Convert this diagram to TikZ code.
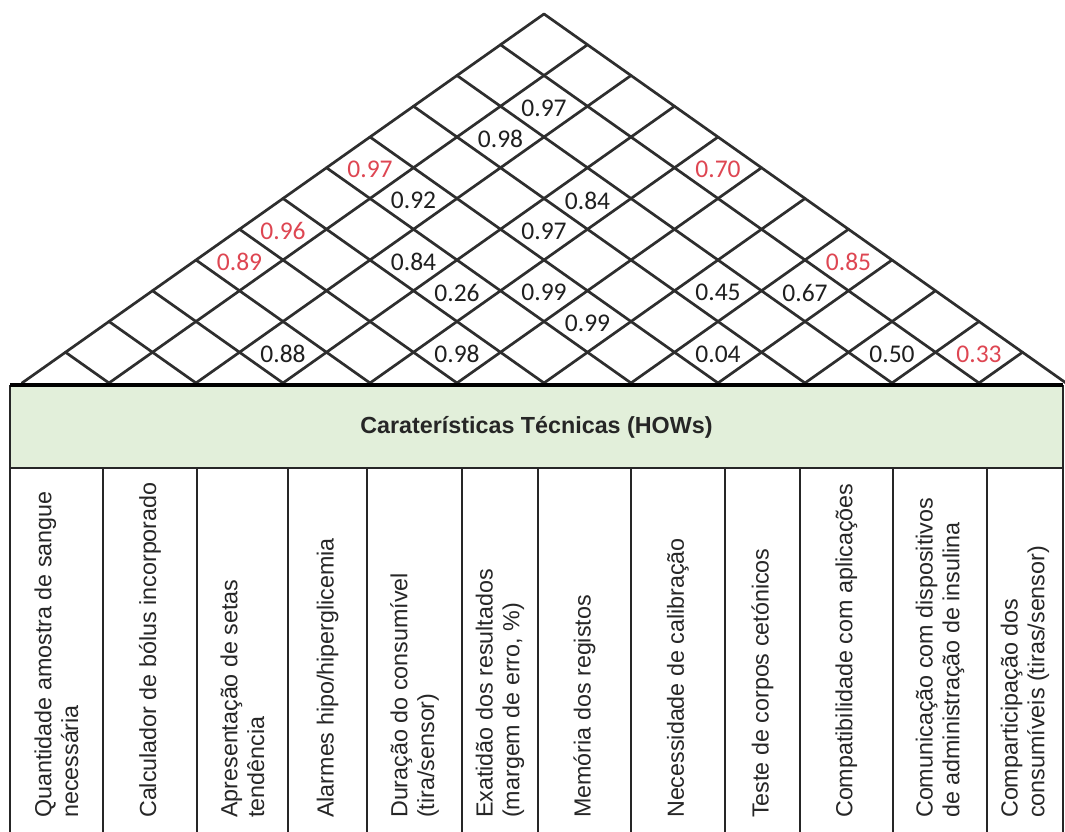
\documentclass[tikz,border=0pt]{standalone}
\usepackage{fontspec}
\setmainfont{Liberation Sans}
\newfontfamily\numfont{Carlito}
\definecolor{howgreen}{HTML}{E2EFDA}
\definecolor{corred}{RGB}{222,70,82}
\begin{document}
\begin{tikzpicture}[x=1pt,y=-1pt,
  lat/.style={line width=2.7pt, draw=black!82, line cap=round},
  corr/.style={font=\numfont\fontsize{25.5}{25.5}\selectfont, text=black!88, inner sep=1pt},
  corrneg/.style={corr, text=corred},
  rule/.style={line width=1.8pt, draw=black!85},
  toprule/.style={line width=3.4pt, draw=black},
  howhead/.style={font=\bfseries\fontsize{23.3}{28}\selectfont, text=black!85},
  howtxt/.style={rotate=90, anchor=west, align=left, inner sep=0pt,
                 font=\fontsize{23.3}{26.8}\selectfont, text=black!85}]
\useasboundingbox (0,0) rectangle (1065,832);
\fill[white] (0,0) rectangle (1065,832);

% ---- roof: base points, edge points and the diagonal lattice ----
\foreach \k in {0,...,12} {
  \coordinate (b\k) at ({22+87*\k},383);
  \coordinate (L\k) at ({22+43.5*\k},{383-30.75*\k});   % left edge, k steps up
  \coordinate (R\k) at ({1066-43.5*\k},{383-30.75*\k}); % right edge, k steps up
}
\foreach \k [evaluate=\k as \j using int(12-\k)] in {0,...,11}
  \draw[lat] (b\k) -- (R\j);
\foreach \k in {1,...,12}
  \draw[lat] (b\k) -- (L\k);

% ---- correlation values, placed at diamond centres (m half-steps, row r) ----
\newcommand{\cval}[4]{\node[#1] (v#2x#3) at ({22+43.5*#2},{385-30.75*#3}) {#4};}
% row 1
\cval{corr}{6}{1}{0.88}
\cval{corr}{10}{1}{0.98}
\cval{corr}{16}{1}{0.04}
\cval{corr}{20}{1}{0.50}
\cval{corrneg}{22}{1}{0.33}
% row 2
\cval{corr}{13}{2}{0.99}
% row 3
\cval{corr}{10}{3}{0.26}
\cval{corr}{12}{3}{0.99}
\cval{corr}{16}{3}{0.45}
\cval{corr}{18}{3}{0.67}
% row 4
\cval{corrneg}{5}{4}{0.89}
\cval{corr}{9}{4}{0.84}
\cval{corrneg}{19}{4}{0.85}
% row 5
\cval{corrneg}{6}{5}{0.96}
\cval{corr}{12}{5}{0.97}
% row 6
\cval{corr}{9}{6}{0.92}
\cval{corr}{13}{6}{0.84}
% row 7
\cval{corrneg}{8}{7}{0.97}
\cval{corrneg}{16}{7}{0.70}
% row 8
\cval{corr}{11}{8}{0.98}
% row 9
\cval{corr}{12}{9}{0.97}

% ---- header band ----
\fill[howgreen] (10,385) rectangle (1063,468);
\node[howhead] (hows) at (536.5,427) {Caraterísticas Técnicas (HOWs)};

% ---- table rules ----
\draw[rule] (10,385) -- (10,832);
\draw[rule] (1063,385) -- (1063,832);
\foreach \x in {103,197,288,367,462,538,631,725,800,893,987}
  \draw[rule] (\x,468) -- (\x,832);
\draw[rule] (10,468) -- (1063,468);
\draw[toprule] (10,385) -- (1063,385);

% ---- technical characteristics ----
\node[howtxt] (h1)  at (56.5,818)  {Quantidade amostra de sangue\\necessária};
\node[howtxt] (h2)  at (150,818)   {Calculador de bólus incorporado};
\node[howtxt] (h3)  at (242.5,818) {Apresentação de setas\\tendência};
\node[howtxt] (h4)  at (327.5,818) {Alarmes hipo/hiperglicemia};
\node[howtxt] (h5)  at (414.5,818) {Duração do consumível\\(tira/sensor)};
\node[howtxt] (h6)  at (500,818)   {Exatidão dos resultados\\(margem de erro, \%)};
\node[howtxt] (h7)  at (584.5,818) {Memória dos registos};
\node[howtxt] (h8)  at (678,818)   {Necessidade de calibração};
\node[howtxt] (h9)  at (762.5,818) {Teste de corpos cetónicos};
\node[howtxt] (h10) at (846.5,818) {Compatibilidade com aplicações};
\node[howtxt] (h11) at (940,818)   {Comunicação com dispositivos\\de administração de insulina};
\node[howtxt] (h12) at (1025,818)  {Comparticipação dos\\consumíveis (tiras/sensor)};
\end{tikzpicture}
\end{document}
